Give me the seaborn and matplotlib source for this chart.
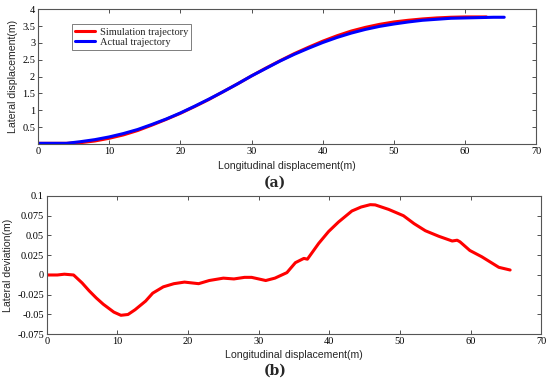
import matplotlib
matplotlib.use("Agg")
import matplotlib.pyplot as plt
import seaborn as sns
import pandas as pd

# (a) trajectories
sim_x = [0, 4, 6, 8, 10, 12, 14, 16, 18, 20, 22, 24, 26, 28, 30, 32, 34, 36, 38,
         40, 42, 44, 46, 48, 50, 52, 54, 56, 58, 60, 62, 63]
sim_y = [0.02, 0.02, 0.04, 0.09, 0.17, 0.27, 0.40, 0.56, 0.73, 0.91, 1.11, 1.32, 1.55,
         1.78, 2.02, 2.25, 2.47, 2.68, 2.87, 3.05, 3.21, 3.35, 3.46, 3.55, 3.62, 3.67,
         3.71, 3.74, 3.76, 3.77, 3.77, 3.77]
act_x = [0, 4, 6, 8, 10, 12, 14, 16, 18, 20, 22, 24, 26, 28, 30, 32, 34, 36, 38,
         40, 42, 44, 46, 48, 50, 52, 54, 56, 58, 60, 62, 64, 65.5]
act_y = [0.02, 0.02, 0.07, 0.13, 0.21, 0.31, 0.43, 0.58, 0.74, 0.92, 1.12, 1.33, 1.55,
         1.78, 2.02, 2.24, 2.46, 2.66, 2.84, 3.01, 3.16, 3.29, 3.40, 3.49, 3.56, 3.62,
         3.67, 3.70, 3.73, 3.74, 3.75, 3.76, 3.76]

# (b) lateral deviation
dev_x = [0, 1.5, 2.5, 3.8, 5, 6, 7, 8, 9.5, 10.5, 11.5, 12.5, 14, 15, 16.5, 18, 19.5,
         21.5, 23, 25, 26.5, 28, 29, 31, 32.3, 34, 35.2, 36.4, 36.9, 38.5, 39.9, 41.3,
         43.2, 44.5, 45.8, 46.5, 48.4, 50.5, 52, 53.6, 55.5, 57.4, 58.1, 58.5, 59.9,
         61.6, 64.0, 65.6]
dev_y = [0, 0, 0.001, 0, -0.01, -0.02, -0.029, -0.037, -0.047, -0.051, -0.05, -0.044,
         -0.033, -0.023, -0.015, -0.011, -0.009, -0.011, -0.007, -0.004, -0.005, -0.003,
         -0.003, -0.007, -0.004, 0.003, 0.0156, 0.021, 0.020, 0.040, 0.055, 0.067, 0.081,
         0.086, 0.089, 0.0887, 0.083, 0.075, 0.065, 0.056, 0.049, 0.043, 0.044, 0.042,
         0.031, 0.023, 0.0097, 0.0063]

traj = pd.concat([
    pd.DataFrame({"x": sim_x, "y": sim_y, "Type": "Simulation trajectory"}),
    pd.DataFrame({"x": act_x, "y": act_y, "Type": "Actual trajectory"}),
])
dev = pd.DataFrame({"x": dev_x, "y": dev_y})

sns.set_style("ticks")
plt.rcParams["font.family"] = ["Liberation Serif", "DejaVu Serif"]
plt.rcParams["xtick.direction"] = "in"
plt.rcParams["ytick.direction"] = "in"

fig = plt.figure(figsize=(5.5, 3.82), dpi=100)
ax1 = fig.add_axes([0.069, 0.623, 0.906, 0.353])
ax2 = fig.add_axes([0.085, 0.125, 0.899, 0.362])

sns.lineplot(data=traj, x="x", y="y", hue="Type", sort=False, estimator=None,
             palette={"Simulation trajectory": "#ff0000", "Actual trajectory": "#0000ff"},
             linewidth=2.2, ax=ax1)
sns.lineplot(data=dev, x="x", y="y", sort=False, estimator=None, color="#ff0000",
             linewidth=2.2, ax=ax2)

ax1.set_xlim(0, 70)
ax1.set_ylim(0, 4)
ax1.set_yticks([0.5, 1, 1.5, 2, 2.5, 3, 3.5, 4])
ax1.set_yticklabels(["0.5", "1", "1.5", "2", "2.5", "3", "3.5", "4"])
ax2.set_xlim(0, 70)
ax2.set_ylim(-0.075, 0.1)
ax2.set_yticks([-0.075, -0.05, -0.025, 0, 0.025, 0.05, 0.075, 0.1])
ax2.set_yticklabels(["-0.075", "-0.05", "-0.025", "0", "0.025", "0.05", "0.075", "0.1"])

sans = ["Liberation Sans", "DejaVu Sans"]
ax1.set_xlabel("Longitudinal displacement(m)", fontsize=7.6, family=sans, labelpad=4)
ax1.set_ylabel("Lateral displacement(m)", fontsize=7.6, family=sans, labelpad=3)
ax2.set_xlabel("Longitudinal displacement(m)", fontsize=7.6, family=sans, labelpad=3)
ax2.set_ylabel("Lateral deviation(m)", fontsize=7.6, family=sans, labelpad=3)

for ax in (ax1, ax2):
    ax.set_xticks(range(0, 71, 10))
    ax.tick_params(labelsize=7.5, length=3, width=0.6, top=True, right=True, pad=2,
                   colors="#333333", labelcolor="black")
    for s in ax.spines.values():
        s.set_visible(True)
        s.set_linewidth(0.8)
        s.set_color("#555555")

leg = ax1.legend(loc="upper left", bbox_to_anchor=(0.068, 0.889), borderaxespad=0,
                 fontsize=7.5, frameon=True, fancybox=False, edgecolor="#444444",
                 handlelength=1.9, borderpad=0.3, labelspacing=0.1, handletextpad=0.5)
leg.get_frame().set_linewidth(0.6)

fig.text(0.5, 0.523, "(a)", ha="center", va="center", fontsize=10, fontweight="bold",
         family=["DejaVu Serif"])
fig.text(0.5, 0.029, "(b)", ha="center", va="center", fontsize=10, fontweight="bold",
         family=["DejaVu Serif"])

fig.savefig("out.png", dpi=100)
